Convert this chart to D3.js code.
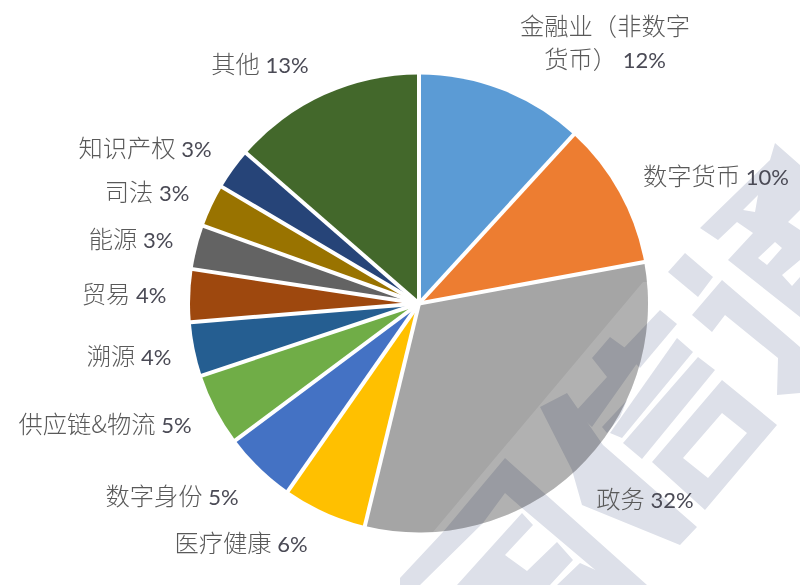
<!DOCTYPE html>
<html><head><meta charset="utf-8">
<script src="https://cdn.jsdelivr.net/npm/d3@7/dist/d3.min.js"></script>
<style>html,body{margin:0;padding:0;background:#fff}svg{display:block}</style>
</head><body><div id="chart"></div>
<script>
// Chart data
const categories = ["金融业（非数字\n货币）","数字货币","政务","医疗健康","数字身份","供应链&物流","溯源","贸易","能源","司法","知识产权","其他"];
const shares = [11.8,10.3,31.7,5.9,5.1,5.1,3.8,3.7,3.1,3.0,2.9,13.6];
const percentLabels = ["12%","10%","32%","6%","5%","5%","4%","4%","3%","3%","3%","13%"];
const colors = ["#5b9bd5","#ed7d31","#a5a5a5","#ffc000","#4472c4","#70ad47","#255e91","#9e480e","#636363","#997300","#264478","#43682b"];

// Layout
const W = 800, H = 585, cx = 419, cy = 303.5, R = 229;
const labelCenters = [[605,27],[716,177],[645,500],[241,544],[172,497],[105,425],[129,357],[124,295],[131,240],[147,193],[145,149],[260,65]];
const lineGap = 33;

// Decorative background watermark (rotated glyph fragments)
const watermark = [
  "M668 272L685 253L713 277L698 297Z",
  "M692 315L722 280L800 347L800 393L777 395L778 358L725 315L712 332Z",
  "M700 228L770 160L775 143L800 165L800 317L728 260L753 233L737 222L718 240Z M758 258L775 242L782 248L767 265Z M782 275L800 260L800 277L792 286Z M788 222L800 210L800 230Z M743 210L758 195L755 212Z",
  "M660 310L677 324L640 368L622 350Z",
  "M677 338L693 352L622 438L610 433Z",
  "M698 357L715 370L642 459L623 443Z",
  "M722 380L777 425L705 510L652 462Z M722 413L683 458L708 478L747 433Z",
  "M540 407L567 393L603 445L697 527L680 545L582 505L572 470Z",
  "M505 458L647 585L613 585L522 508L505 493L483 523L420 585L400 585L400 578L443 532Z",
  "M457 585L522 513L533 525L505 555L527 571L557 542L573 560L550 585Z",
  "M557 585L580 563L600 572L607 563L628 585Z",
  "M592 358L610 337L628 350L645 333L650 345L592 427L575 412L607 377Z",
  "M602 427L627 400L620 417L607 433Z"
];
const bandPath = "M643 282L800 282L800 585L433 585L433 532Z";

const svg = d3.select("#chart").append("svg").attr("width",W).attr("height",H).attr("viewBox",[0,0,W,H]);

const pie = d3.pie().sort(null).value(d=>d)(shares);
const arc = d3.arc().innerRadius(0).outerRadius(R);
const g = svg.append("g").attr("transform",`translate(${cx},${cy})`);

svg.append("clipPath").attr("id","wedge").append("path")
  .attr("transform",`translate(${cx},${cy})`).attr("d",arc(pie[2]));

g.selectAll("path.slice").data(pie).join("path").attr("class","slice")
  .attr("d",arc).attr("fill",(d,i)=>colors[i]);

svg.append("path").attr("d",bandPath).attr("fill","#fff").attr("opacity",0.14).attr("clip-path","url(#wedge)");

const wm = svg.append("g").style("mix-blend-mode","multiply");
wm.selectAll("path").data(watermark).join("path").attr("d",d=>d).attr("fill","#dde0e9").attr("fill-rule","evenodd");

g.selectAll("line.spoke").data(pie).join("line").attr("class","spoke")
  .attr("x1",0).attr("y1",0)
  .attr("x2",d=>(R+3)*Math.sin(d.startAngle)).attr("y2",d=>-(R+3)*Math.cos(d.startAngle))
  .attr("stroke","#fff").attr("stroke-width",4);

// Labels
const lab = svg.append("g");
categories.forEach((c,i)=>{
  const lines = c.split("\n");
  const [lx,ly] = labelCenters[i];
  lines.forEach((ln,k)=>{
    const last = k===lines.length-1;
    const t = lab.append("text").attr("x",lx).attr("y",ly+8+k*lineGap)
      .attr("text-anchor","middle").attr("fill","#595959");
    t.append("tspan").attr("font-family","'Noto Sans CJK SC'").attr("font-size",24.3).attr("font-weight",300).text(ln);
    if(last) t.append("tspan").attr("font-family","Lato").attr("font-size",22).attr("fill","#4a4a55").text("\u00a0"+percentLabels[i]);
  });
});
</script></body></html>
